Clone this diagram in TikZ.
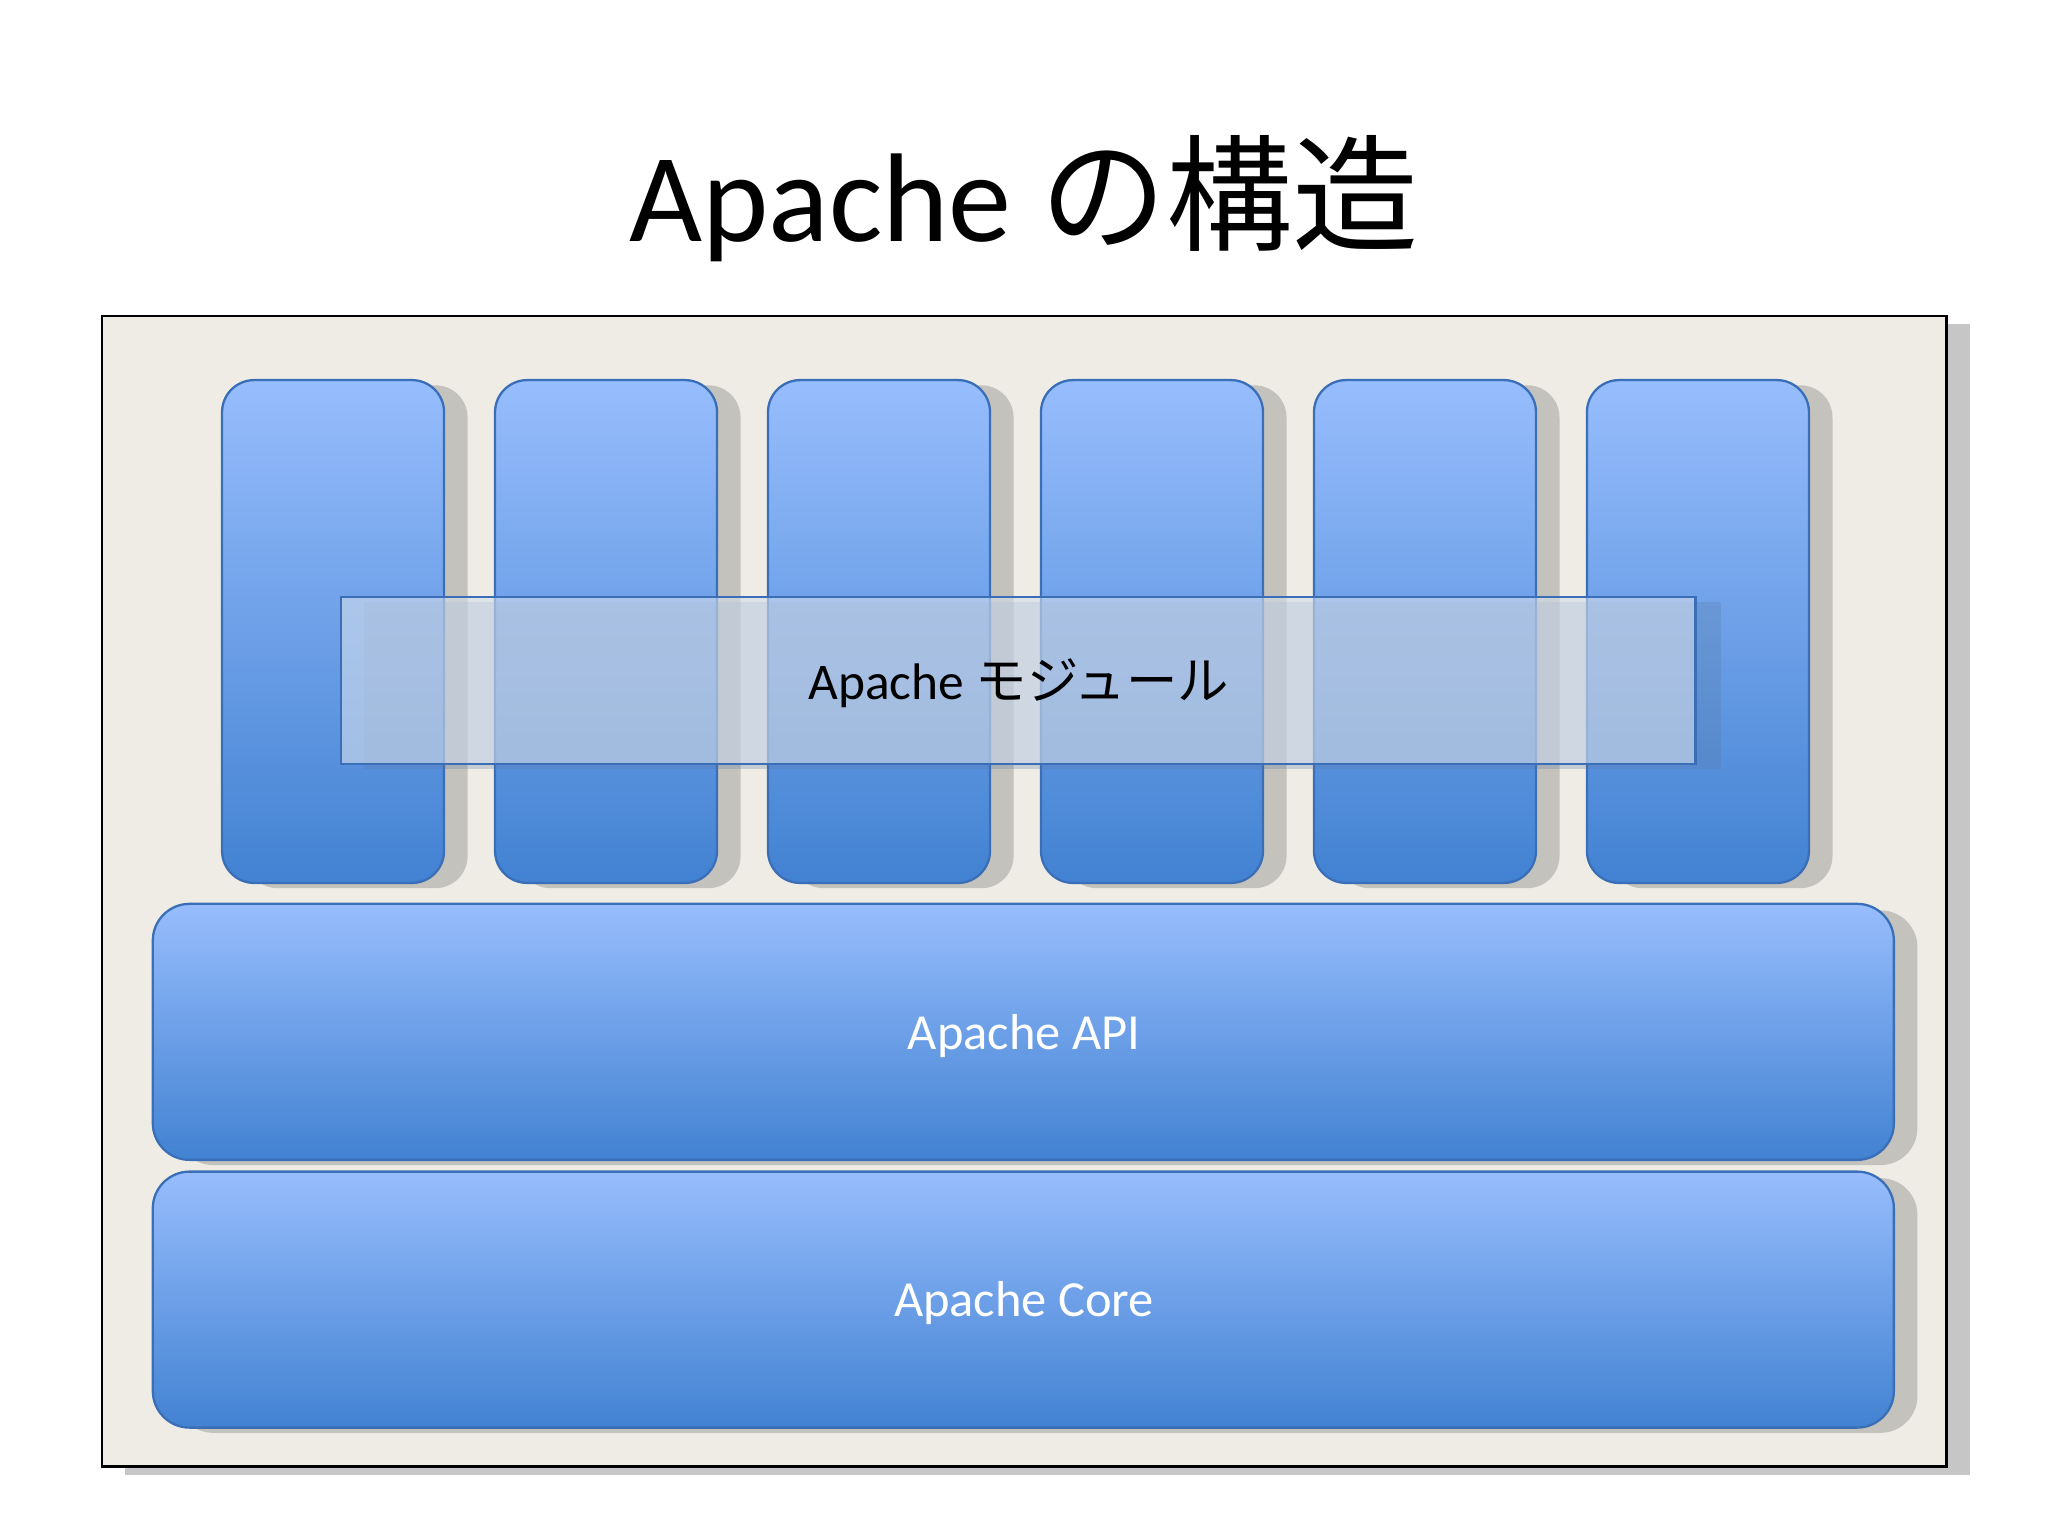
\documentclass[tikz,border=0pt]{standalone}
\usepackage{fontspec}
\setmainfont{Carlito}
\newfontfamily\cjk{Noto Sans CJK JP}
\begin{document}
\begin{tikzpicture}[x=0.1mm,y=-0.1mm,
  shade box/.style={rounded corners=7pt,top color=blue1,bottom color=blue2,draw=blue3,line width=0.5pt},
  lbl/.style={font=\fontsize{11}{13}\selectfont,white}]
\definecolor{blue1}{HTML}{97BDFD}
\definecolor{blue2}{HTML}{4282D2}
\definecolor{blue3}{HTML}{3A6FB8}
\definecolor{shadowgray}{HTML}{C4C2BC}
\definecolor{bg}{HTML}{EEECE4}
\useasboundingbox (0,0) rectangle (1568,1176);
\node (title) at (784,152) {\fontsize{27.5}{32}\selectfont Apache {\cjk の構造}};
\fill[gray!45] (96,248) rectangle (1508,1129);
\draw[fill=bg,line width=0.6pt] (78,242) rectangle (1490,1123);
\foreach \i/\x in {1/170,2/379,3/588,4/797,5/1006,6/1215}{
  \fill[shadowgray] (\x+18,295) [rounded corners=7pt] rectangle (\x+188,680);
  \path[shade box] (\x,291) rectangle (\x+170,676) coordinate (c\i);
}
\fill[blue3!60!gray,opacity=0.25] (279,461) rectangle (1318,589);
\draw[fill=bg!70!blue1,fill opacity=0.6,draw=blue3,line width=0.5pt] (261,457) rectangle (1298,585);
\node (mod) at (780,523) {\fontsize{11.2}{13}\selectfont Apache {\cjk モジュール}};
\fill[shadowgray,rounded corners=8pt] (135,697) rectangle (1468,892);
\path[shade box,rounded corners=8pt] (117,692) rectangle (1450,888);
\node[lbl] (api) at (784,793) {Apache API};
\fill[shadowgray,rounded corners=8pt] (135,902) rectangle (1468,1097);
\path[shade box,rounded corners=8pt] (117,897) rectangle (1450,1093);
\node[lbl] (core) at (784,998) {Apache Core};
\end{tikzpicture}
\end{document}
